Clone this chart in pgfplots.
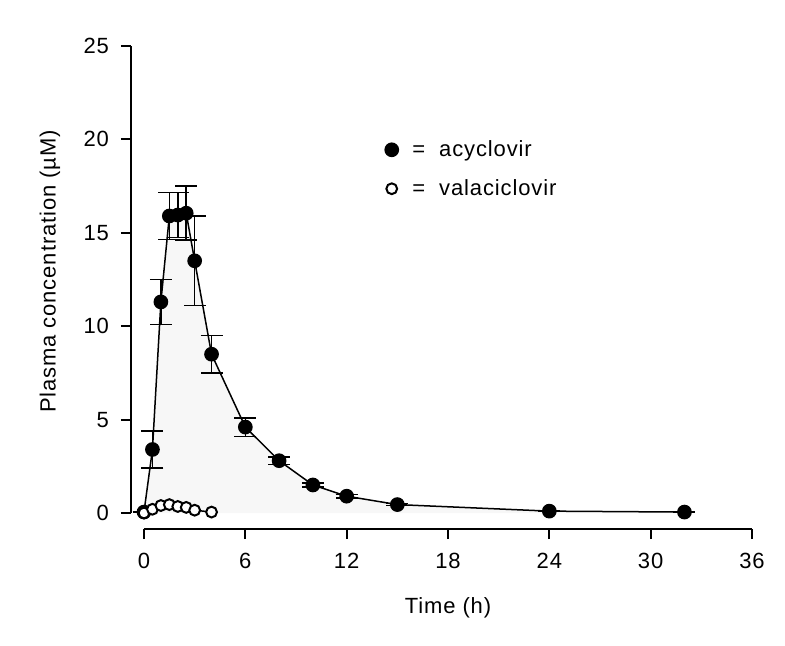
\documentclass[border=0pt]{standalone}
\usepackage{fontspec}
\setmainfont[LetterSpace=4]{Liberation Sans}
\usepackage{pgfplots}
\usepackage{pgfplotstable}
\pgfplotsset{compat=1.18}

% acyclovir: time (h), mean (uM), error
\pgfplotstableread{
t     c      e
0     0.05   0
0.5   3.4    1.0
1     11.3   1.2
1.5   15.9   1.25
2     15.95  1.2
2.5   16.05  1.45
3     13.5   2.4
4     8.5    1.0
6     4.6    0.5
8     2.8    0.2
10    1.5    0.1
12    0.9    0.1
15    0.45   0.05
24    0.1    0
32    0.05   0
}\acyclovir

% valaciclovir
\pgfplotstableread{
t     c
0     0.0
0.5   0.2
1     0.4
1.5   0.45
2     0.35
2.5   0.3
3     0.15
4     0.05
}\valaciclovir

\begin{document}
\begin{tikzpicture}
\useasboundingbox (-72pt,-66.5pt) rectangle (320.5pt,256.5pt);
\begin{axis}[
    scale only axis,
    width=304pt, height=233.5pt,
    xmin=0, xmax=36, ymin=0, ymax=25,
    clip=false,
    axis lines=left,
    axis line style={-, line width=1pt},
    axis x line shift=8pt,
    axis y line shift=6.5pt,
    xtick={0,6,...,36},
    ytick={0,5,...,25},
    tick align=outside,
    major tick length=5pt,
    tick style={line width=1pt, black},
    xticklabel style={yshift=-3.5pt},
    yticklabel style={xshift=-2.5pt},
    font=\fontsize{11}{13}\selectfont,
    /pgf/number format/assume math mode=true,
    xlabel={Time (h)},
    ylabel={Plasma concentration (µM)},
    every axis x label/.style={at={([yshift=-47.5pt]axis description cs:0.5,0)}, anchor=center},
    every axis y label/.style={at={([xshift=-47pt,yshift=4pt]axis description cs:0,0.5)}, rotate=90, anchor=center},
    legend style={at={(axis cs:13.9,20.4)}, anchor=north west, draw=none, fill=none,
        row sep=6pt, font=\fontsize{11}{13}\selectfont},
    legend cell align=left,
    legend image code/.code={\path[#1] plot coordinates {(0.15cm,0cm)};},
]
\addplot[draw=none, fill=gray!6, forget plot] table[x=t, y=c] {\acyclovir} \closedcycle;
\addplot[black, line width=0.75pt, mark=*, mark size=3.3pt,
    error bars/.cd, y dir=both, y explicit,
    error bar style={line width=0.8pt, black},
    error mark options={rotate=90, mark size=5.5pt, line width=0.8pt, black}]
    table[x=t, y=c, y error=e] {\acyclovir};
\addlegendentry{\hspace{5pt}=\ \ acyclovir}
\addplot[black, line width=0.75pt, mark=*, mark size=2.7pt,
    mark options={fill=white, line width=1pt}]
    table[x=t, y=c] {\valaciclovir};
\addlegendentry{\hspace{5pt}=\ \ valaciclovir}
\end{axis}
\end{tikzpicture}
\end{document}
